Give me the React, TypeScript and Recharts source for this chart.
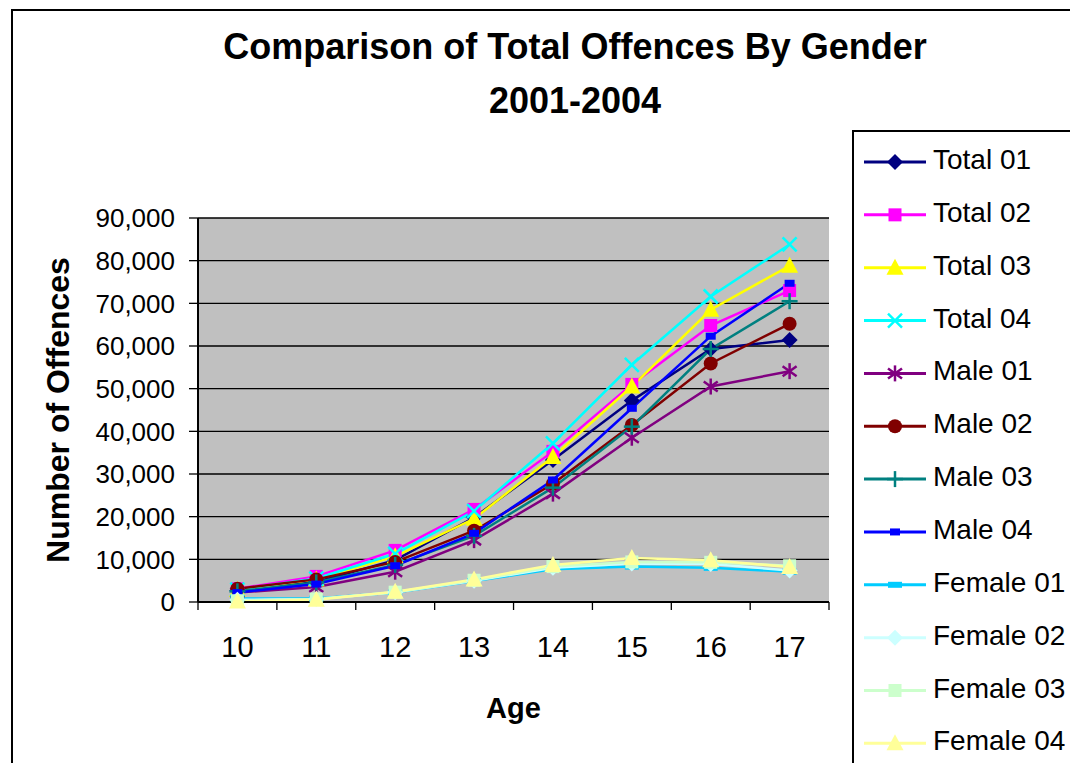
import React from 'react';
import { LineChart, Line, XAxis, YAxis, CartesianGrid, Legend, Label } from 'recharts';

const ages = [10, 11, 12, 13, 14, 15, 16, 17];
const total01 = [2700, 4700, 9800, 19800, 33300, 47200, 59300, 61400];
const total02 = [3100, 6000, 12100, 21700, 35300, 51000, 64800, 73000];
const total03 = [2800, 5300, 10700, 19500, 34000, 50500, 68500, 78800];
const total04 = [2900, 5500, 11300, 21300, 37200, 55600, 71600, 83800];
const male01 = [2200, 3500, 7100, 14500, 25400, 38500, 50500, 54100];
const male02 = [3100, 5300, 9400, 16700, 27700, 41500, 55900, 65200];
const male03 = [2500, 4600, 8700, 15500, 26800, 41100, 59300, 70500];
const male04 = [2200, 4200, 8500, 16100, 28600, 45400, 62300, 74700];
const female01 = [800, 800, 2200, 4900, 7700, 8300, 8000, 7100];
const female02 = [500, 700, 2300, 5000, 8000, 9000, 8900, 7400];
const female03 = [300, 700, 2300, 5100, 8300, 9400, 9300, 8500];
const female04 = [100, 500, 2400, 5300, 8700, 10300, 9800, 8200];
const yTicks = [0, 10000, 20000, 30000, 40000, 50000, 60000, 70000, 80000, 90000];

const title1 = 'Comparison of Total Offences By Gender';
const title2 = '2001-2004';
const xTitle = 'Age';
const yTitle = 'Number of Offences';

type Shape = 'diamond' | 'square' | 'triangle' | 'x' | 'star' | 'circle' | 'plus' | 'dash' | 'wideDash';

const series: { name: string; values: number[]; color: string; shape: Shape }[] = [
  { name: 'Total 01', values: total01, color: '#000080', shape: 'diamond' },
  { name: 'Total 02', values: total02, color: '#FF00FF', shape: 'square' },
  { name: 'Total 03', values: total03, color: '#FFFF00', shape: 'triangle' },
  { name: 'Total 04', values: total04, color: '#00FFFF', shape: 'x' },
  { name: 'Male 01', values: male01, color: '#800080', shape: 'star' },
  { name: 'Male 02', values: male02, color: '#800000', shape: 'circle' },
  { name: 'Male 03', values: male03, color: '#008080', shape: 'plus' },
  { name: 'Male 04', values: male04, color: '#0000FF', shape: 'dash' },
  { name: 'Female 01', values: female01, color: '#00CCFF', shape: 'wideDash' },
  { name: 'Female 02', values: female02, color: '#CCFFFF', shape: 'diamond' },
  { name: 'Female 03', values: female03, color: '#CCFFCC', shape: 'square' },
  { name: 'Female 04', values: female04, color: '#FFFF99', shape: 'triangle' },
];

const data = ages.map((age, i) => {
  const row: Record<string, number> = { age };
  series.forEach((s) => {
    row[s.name] = s.values[i];
  });
  return row;
});

const FONT = '"Liberation Sans", Arial, sans-serif';
const HALF_BAND = 39.4;

function Marker({ shape, color, cx, cy }: { shape: Shape; color: string; cx: number; cy: number }) {
  switch (shape) {
    case 'diamond':
      return <polygon points={`${cx},${cy - 8} ${cx + 8},${cy} ${cx},${cy + 8} ${cx - 8},${cy}`} fill={color} />;
    case 'square':
      return <rect x={cx - 6.5} y={cy - 6.5} width={13} height={13} fill={color} />;
    case 'triangle':
      return <polygon points={`${cx},${cy - 9} ${cx + 8.5},${cy + 7} ${cx - 8.5},${cy + 7}`} fill={color} />;
    case 'x':
      return (
        <g stroke={color} strokeWidth={2.5}>
          <line x1={cx - 7} y1={cy - 7} x2={cx + 7} y2={cy + 7} />
          <line x1={cx - 7} y1={cy + 7} x2={cx + 7} y2={cy - 7} />
        </g>
      );
    case 'star':
      return (
        <g stroke={color} strokeWidth={2.5}>
          <line x1={cx} y1={cy - 8} x2={cx} y2={cy + 8} />
          <line x1={cx - 7} y1={cy - 5} x2={cx + 7} y2={cy + 5} />
          <line x1={cx - 7} y1={cy + 5} x2={cx + 7} y2={cy - 5} />
        </g>
      );
    case 'circle':
      return <circle cx={cx} cy={cy} r={7} fill={color} />;
    case 'plus':
      return (
        <g stroke={color} strokeWidth={2.5}>
          <line x1={cx} y1={cy - 8} x2={cx} y2={cy + 8} />
          <line x1={cx - 8} y1={cy} x2={cx + 8} y2={cy} />
        </g>
      );
    case 'dash':
      return <rect x={cx - 5} y={cy - 3.5} width={10} height={7} fill={color} />;
    case 'wideDash':
      return <rect x={cx - 7} y={cy - 3} width={14} height={6} fill={color} />;
    default:
      return null;
  }
}

const fmt = (v: number) => v.toLocaleString('en-US');

const YTick = (p: any) => (
  <text x={p.x} y={p.y} dy="0.36em" textAnchor="end" fontSize={26} fontFamily={FONT} fill="#000">
    {fmt(p.payload.value)}
  </text>
);

const XTick = (p: any) => {
  const axisY = p.y - 34;
  const last = p.index === ages.length - 1;
  return (
    <g>
      <line x1={p.x - HALF_BAND} y1={axisY} x2={p.x - HALF_BAND} y2={axisY + 8} stroke="#000" strokeWidth={1.3} />
      {last && <line x1={p.x + HALF_BAND} y1={axisY} x2={p.x + HALF_BAND} y2={axisY + 8} stroke="#000" strokeWidth={1.3} />}
      <text x={p.x} y={p.y} dy="0.71em" textAnchor="middle" fontSize={29} fontFamily={FONT} fill="#000">
        {p.payload.value}
      </text>
    </g>
  );
};

const LegendBox = () => (
  <div style={{ border: '2px solid #000', width: 260, height: 700, boxSizing: 'border-box', background: '#fff' }}>
    <svg width={256} height={690}>
      {series.map((s, i) => {
        const cy = 30 + 52.85 * i;
        return (
          <g key={s.name}>
            <line x1={10} y1={cy} x2={72} y2={cy} stroke={s.color} strokeWidth={3} />
            <Marker shape={s.shape} color={s.color} cx={41} cy={cy} />
            <text x={79} y={cy - 3} dy="0.36em" fontSize={28} fontFamily={FONT} fill="#000">
              {s.name}
            </text>
          </g>
        );
      })}
    </svg>
  </div>
);

export default function App() {
  return (
    <div style={{ position: 'fixed', left: 0, top: 0, width: 1070, height: 763, overflow: 'hidden', background: '#fff', fontFamily: FONT }}>
      <div style={{ position: 'absolute', left: 11, top: 9, width: 1200, height: 900, border: '2px solid #000' }} />
      <div
        style={{
          position: 'absolute',
          left: 175,
          top: 20,
          width: 800,
          textAlign: 'center',
          fontSize: 36,
          fontWeight: 'bold',
          lineHeight: '54px',
          whiteSpace: 'nowrap',
          color: '#000',
        }}
      >
        <div>{title1}</div>
        <div>{title2}</div>
      </div>
      <div style={{ position: 'absolute', left: 0, top: 0 }}>
        <LineChart width={1070} height={763} data={data} margin={{ top: 218, right: 241, bottom: 31, left: 48 }}>
          <CartesianGrid vertical={false} stroke="#000" strokeWidth={1.3} fill="#C0C0C0" />
          <XAxis
            dataKey="age"
            padding={{ left: HALF_BAND, right: HALF_BAND }}
            height={130}
            tickSize={8}
            tickMargin={26}
            tickLine={false}
            tick={<XTick />}
            axisLine={{ stroke: '#000', strokeWidth: 2 }}
            interval={0}
          >
            <Label value={xTitle} position="insideBottom" offset={14} style={{ fontSize: 29, fontWeight: 'bold', fontFamily: FONT, fill: '#000' }} />
          </XAxis>
          <XAxis
            xAxisId="top"
            orientation="top"
            dataKey="age"
            height={0}
            tick={false}
            tickLine={false}
            axisLine={{ stroke: '#808080', strokeWidth: 2.5 }}
          />
          <YAxis
            domain={[0, 90000]}
            ticks={yTicks}
            width={150}
            tickSize={9}
            tickMargin={14}
            tick={<YTick />}
            tickLine={{ stroke: '#000', strokeWidth: 1.3 }}
            axisLine={{ stroke: '#000', strokeWidth: 2 }}
            interval={0}
          >
            <Label
              value={yTitle}
              angle={-90}
              position="insideLeft"
              offset={10}
              style={{ textAnchor: 'middle', fontSize: 32, fontWeight: 'bold', fontFamily: FONT, fill: '#000' }}
            />
          </YAxis>
          <YAxis
            yAxisId="right"
            orientation="right"
            domain={[0, 90000]}
            width={0}
            tick={false}
            tickLine={false}
            axisLine={{ stroke: '#808080', strokeWidth: 2.5 }}
          />
          <Legend
            layout="vertical"
            align="center"
            verticalAlign="middle"
            content={() => <LegendBox />}
            wrapperStyle={{ left: 852, top: 130, width: 260, height: 700 }}
          />
          {series.map((s) => (
            <Line
              key={s.name}
              type="linear"
              dataKey={s.name}
              name={s.name}
              stroke={s.color}
              strokeWidth={2.5}
              isAnimationActive={false}
              dot={(p: any) => <Marker key={`${s.name}-${p.index}`} shape={s.shape} color={s.color} cx={p.cx} cy={p.cy} />}
              activeDot={false}
            />
          ))}
        </LineChart>
      </div>
    </div>
  );
}
